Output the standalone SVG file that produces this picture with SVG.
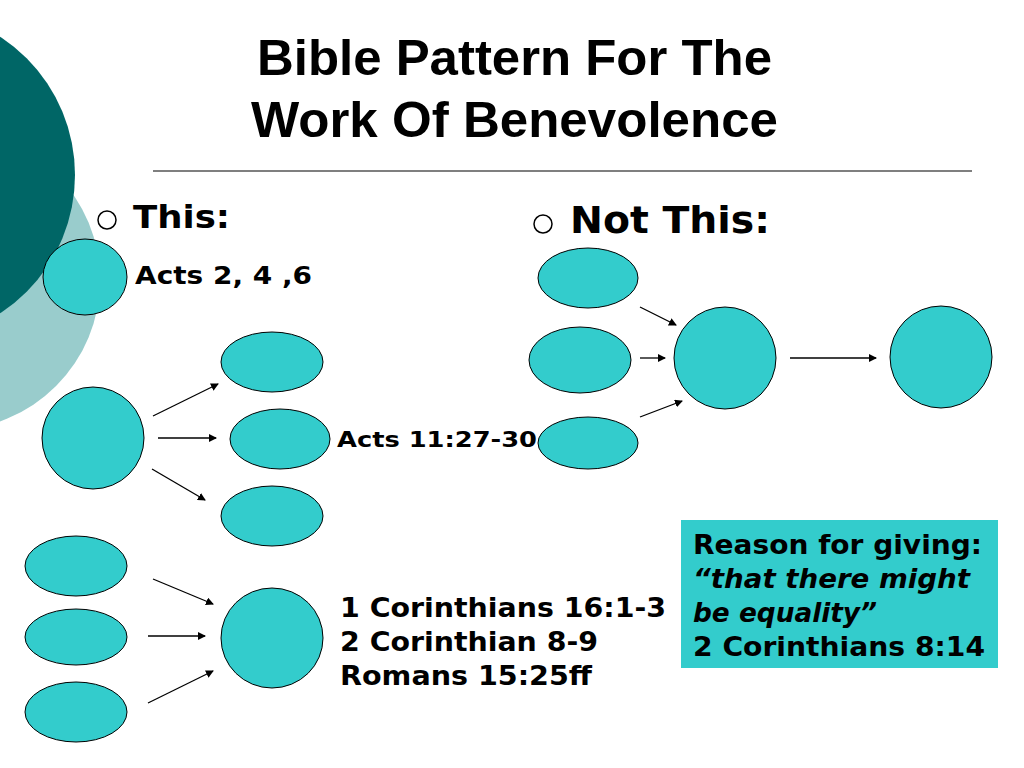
<svg xmlns="http://www.w3.org/2000/svg" width="1024" height="768" viewBox="0 0 1024 768">
<defs>
<marker id="ah" markerWidth="8" markerHeight="8" refX="7" refY="4" orient="auto" markerUnits="userSpaceOnUse"><path d="M0,0 L8,4 L0,8 z" fill="#000"/></marker>
<style>
.n{fill:#33CCCC;stroke:#000;stroke-width:1}
.t{font-family:"Liberation Sans",Arial,sans-serif;font-weight:bold;fill:#000}
.d{font-family:"DejaVu Sans","Liberation Sans",sans-serif;font-weight:bold;fill:#000}
.c line{stroke:#000;stroke-width:1.3;marker-end:url(#ah)}
</style>
</defs>
<rect width="1024" height="768" fill="#fff"/>
<circle cx="-50" cy="280" r="150" fill="#99CCCC"/>
<circle cx="-90" cy="175" r="165" fill="#006666"/>
<text class="t" x="257" y="75" font-size="50" textLength="515" lengthAdjust="spacingAndGlyphs">Bible Pattern For The</text>
<text class="t" x="251" y="137" font-size="50" textLength="527" lengthAdjust="spacingAndGlyphs">Work Of Benevolence</text>
<line x1="153" y1="171" x2="972" y2="171" stroke="#000" stroke-width="1.2"/>
<circle cx="107" cy="220" r="9" fill="none" stroke="#000" stroke-width="1.5"/>
<text class="d" x="133" y="228" font-size="32" textLength="97" lengthAdjust="spacingAndGlyphs">This:</text>
<circle cx="543" cy="224" r="9" fill="none" stroke="#000" stroke-width="1.5"/>
<text class="d" x="570" y="233" font-size="38" textLength="200" lengthAdjust="spacingAndGlyphs">Not This:</text>
<g id="n1"><ellipse class="n" cx="85" cy="277" rx="42" ry="38"/></g>
<g id="n2"><ellipse class="n" cx="272" cy="362" rx="51" ry="30"/></g>
<g id="n3"><ellipse class="n" cx="93" cy="438" rx="51" ry="51"/></g>
<g id="n4"><ellipse class="n" cx="280" cy="439" rx="50" ry="30"/></g>
<g id="n5"><ellipse class="n" cx="272" cy="516" rx="51" ry="30"/></g>
<g id="n6"><ellipse class="n" cx="76" cy="566" rx="51" ry="30"/></g>
<g id="n7"><ellipse class="n" cx="76" cy="637" rx="51" ry="28"/></g>
<g id="n8"><ellipse class="n" cx="76" cy="712" rx="51" ry="30"/></g>
<g id="n9"><ellipse class="n" cx="272" cy="638" rx="51" ry="50"/></g>
<g id="n10"><ellipse class="n" cx="588" cy="278" rx="50" ry="30"/></g>
<g id="n11"><ellipse class="n" cx="580" cy="360" rx="51" ry="33"/></g>
<g id="n12"><ellipse class="n" cx="588" cy="443" rx="50" ry="26"/></g>
<g id="n13"><circle class="n" cx="725" cy="358" r="51"/></g>
<g id="n14"><circle class="n" cx="941" cy="357" r="51"/></g>
<g class="c">
<line x1="153" y1="416" x2="218" y2="384"/>
<line x1="158" y1="438" x2="216" y2="438"/>
<line x1="152" y1="469" x2="205" y2="500"/>
<line x1="153" y1="579" x2="213" y2="604"/>
<line x1="148" y1="636" x2="205" y2="636"/>
<line x1="148" y1="703" x2="213" y2="671"/>
<line x1="640" y1="307" x2="676" y2="325"/>
<line x1="640" y1="358" x2="665" y2="358"/>
<line x1="640" y1="417" x2="682" y2="401"/>
<line x1="790" y1="358" x2="876" y2="358"/>
</g>
<text class="d" x="135" y="284" font-size="24" textLength="177" lengthAdjust="spacingAndGlyphs">Acts 2, 4 ,6</text>
<text class="d" x="337" y="447" font-size="22" textLength="200" lengthAdjust="spacingAndGlyphs">Acts 11:27-30</text>
<text class="d" x="340" y="617" font-size="26" textLength="326" lengthAdjust="spacingAndGlyphs">1 Corinthians 16:1-3</text>
<text class="d" x="340" y="651" font-size="26" textLength="258" lengthAdjust="spacingAndGlyphs">2 Corinthian 8-9</text>
<text class="d" x="340" y="685" font-size="26" textLength="252" lengthAdjust="spacingAndGlyphs">Romans 15:25ff</text>
<g id="box">
<rect x="681" y="520" width="317" height="148" fill="#33CCCC"/>
<text class="d" x="693" y="554" font-size="26" textLength="289" lengthAdjust="spacingAndGlyphs">Reason for giving:</text>
<text class="d" x="693" y="588" font-size="26" font-style="italic" textLength="277" lengthAdjust="spacingAndGlyphs">“that there might</text>
<text class="d" x="693" y="622" font-size="26" font-style="italic" textLength="184" lengthAdjust="spacingAndGlyphs">be equality”</text>
<text class="d" x="693" y="656" font-size="26" textLength="292" lengthAdjust="spacingAndGlyphs">2 Corinthians 8:14</text>
</g>
</svg>
